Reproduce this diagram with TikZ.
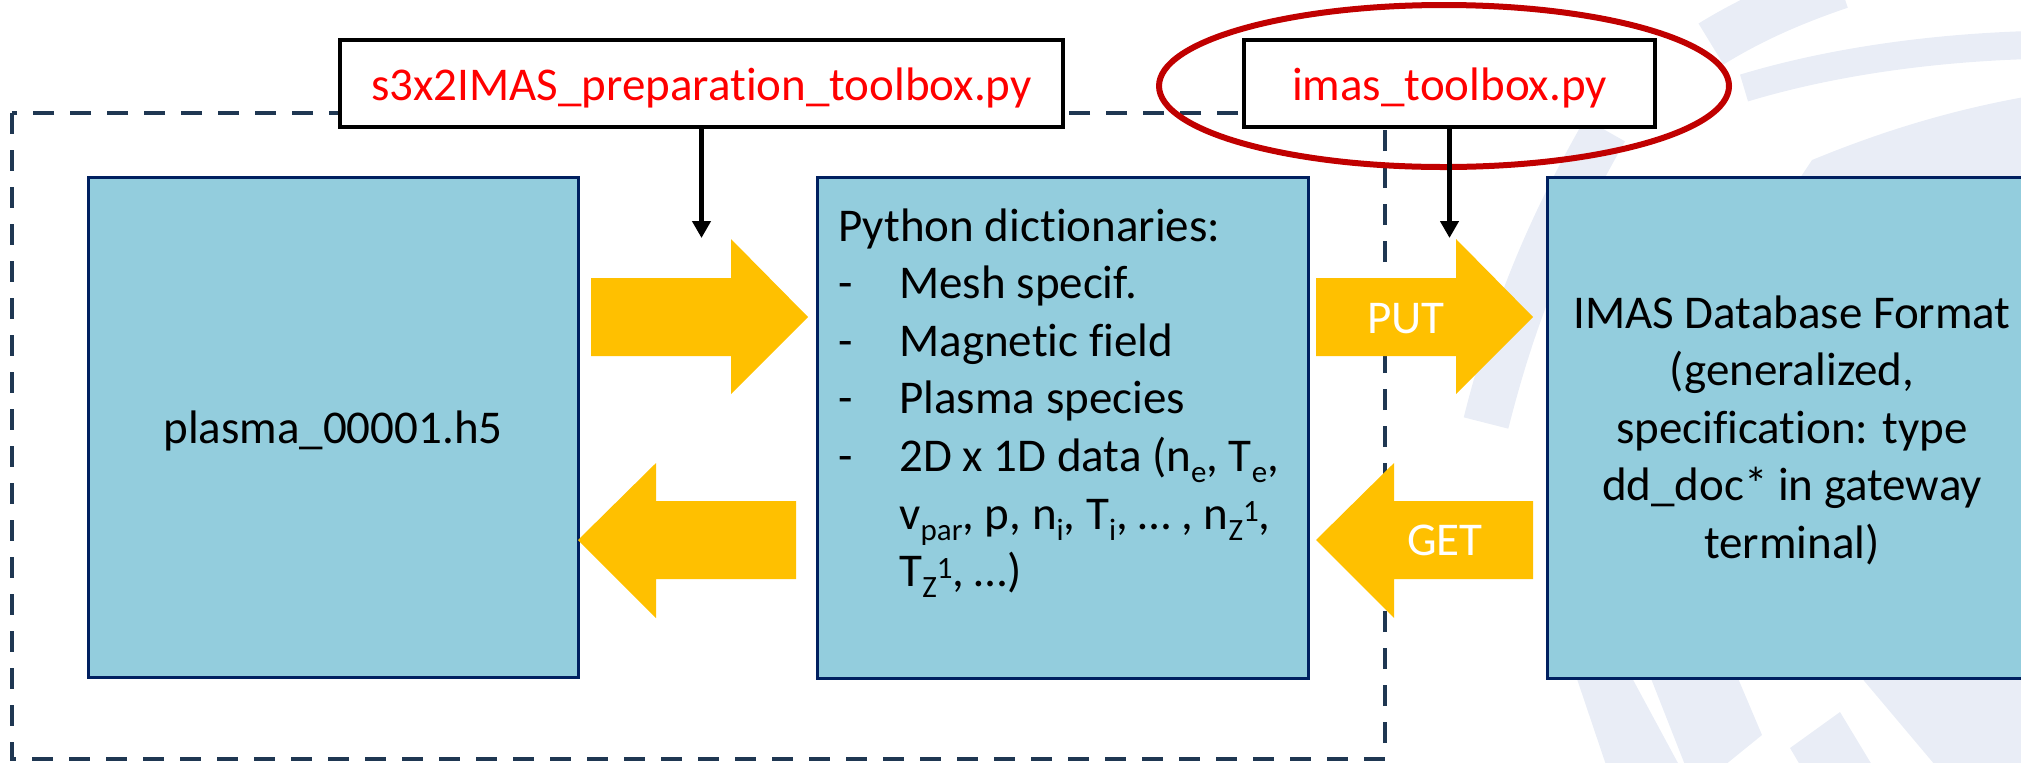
\documentclass[tikz,border=0pt]{standalone}
\usepackage{fontspec}
\setmainfont{Carlito}[Ligatures={NoCommon}]
\usetikzlibrary{arrows.meta}

\definecolor{boxblue}{HTML}{93CDDD}
\definecolor{boxedge}{HTML}{002060}
\definecolor{flow}{HTML}{FFC000}
\definecolor{frameline}{HTML}{1F3752}
\definecolor{ringred}{HTML}{C00000}
\definecolor{tagred}{HTML}{FF0000}
\definecolor{wmark}{HTML}{E9EDF6}

% sub- and superscripts in the body text
\newcommand\lowtxt[1]{\raisebox{-5.5pt}{\fontsize{15.5}{15.5}\selectfont #1}}
\newcommand\hightxt[1]{\raisebox{4pt}{\fontsize{15.5}{15.5}\selectfont #1}}

\begin{document}
\begin{tikzpicture}[x=0.5pt,y=-0.5pt,
  font=\fontsize{23.5}{28.8}\selectfont,
  bluebox/.style={draw=boxedge,line width=1.5pt,fill=boxblue,inner sep=0pt},
  tagbox/.style={draw=black,line width=1.75pt,fill=white,text=tagred,inner sep=0pt,
                 text height=21.5pt,text depth=5pt,minimum height=43.5pt},
  txt/.style={inner sep=0pt},
  flowarrow/.style={fill=flow},
  feed/.style={line width=2.25pt,-{Triangle[width=9pt,length=8.5pt]}},
  frame/.style={draw=frameline,line width=2.4pt,dash pattern=on 10.5pt off 8pt},
  ring/.style={draw=ringred,line width=3pt},
  wm/.style={draw=wmark},
]
\useasboundingbox (0,0) rectangle (2021,762);
\clip (0,0) rectangle (2021,762);

% faint logo bands in the background
\draw[wm,line width=23pt] (1486,423) .. controls (1512,320) and (1545,235) .. (1605,130);
\draw[wm,line width=24pt] (1711,44) .. controls (1750,20) and (1790,2) .. (1840,-15);
\draw[wm,line width=14pt] (1744,88) .. controls (1830,62) and (1930,48) .. (2030,45);
\fill[wmark] (1800,178) -- (1812,160) .. controls (1880,132) and (1950,110) .. (2030,96) -- (2030,178) -- cycle;
\fill[wmark] (1576,676) -- (1631,676) -- (1679,765) -- (1606,765) -- cycle;
\fill[wmark] (1650,676) -- (1737,676) -- (1762,735) -- (1725,765) -- (1685,765) -- cycle;
\fill[wmark] (1790,748) -- (1840,712) -- (1872,765) -- (1800,765) -- cycle;
\fill[wmark] (1860,676) -- (2030,676) -- (2030,765) -- (1935,765) -- cycle;

% dashed frame round the preparation step
\draw[frame] (12,113) rectangle (1385,759);

% script labels
\node[tagbox,minimum width=361.5pt] (prep) at (701.5,83.5) {s3x2IMAS\_preparation\_toolbox.py};
\node[tagbox,minimum width=205.5pt] (imastb) at (1449.5,83.5) {imas\_toolbox.py};
\draw[ring] (1444,86) ellipse [x radius=142.5pt, y radius=40.5pt];

% data boxes
\node[bluebox,minimum width=245pt,minimum height=250pt,text height=21pt,text depth=5pt]
  (h5) at (333,427) {plasma\_00001.h5};
\node[bluebox,minimum width=245.5pt,minimum height=250.5pt] (dicts) at (1062.5,427.5) {};
\node[bluebox,minimum width=256.5pt,minimum height=250.5pt] (imasdb) at (1803.5,427.5) {};

\node[txt,anchor=base west] (dictstext) at (838,241) {\parbox[t]{240pt}{\raggedright
  Python dictionaries:\\
  \makebox[30.5pt][l]{-}Mesh specif.\\
  \makebox[30.5pt][l]{-}Magnetic field\\
  \makebox[30.5pt][l]{-}Plasma species\\
  \makebox[30.5pt][l]{-}2D x 1D data (n\lowtxt{e}, T\lowtxt{e},\\
  \hspace*{30.5pt}v\lowtxt{par}, p, n\lowtxt{i}, T\lowtxt{i}, … , n\lowtxt{Z}\hightxt{1},\\
  \hspace*{30.5pt}T\lowtxt{Z}\hightxt{1}, …)}};

\node[txt,anchor=base] (dbtext) at (1792,328) {\parbox[t]{260pt}{\centering
  IMAS Database Format\\
  (generalized,\\
  specification: type\\
  dd\_doc* in gateway\\
  terminal)}};

% block arrows between the boxes
\fill[flowarrow] (591,278) -- (731,278) -- (731,239) -- (808,317) -- (731,394) -- (731,356) -- (591,356) -- cycle;
\fill[flowarrow] (578,540) -- (656,463) -- (656,501) -- (796,501) -- (796,579) -- (656,579) -- (656,618) -- cycle;
\fill[flowarrow] (1316,278) -- (1456,278) -- (1456,239) -- (1533,317) -- (1456,394) -- (1456,356) -- (1316,356) -- cycle;
\fill[flowarrow] (1316,540) -- (1394,463) -- (1394,501) -- (1533,501) -- (1533,579) -- (1394,579) -- (1394,618) -- cycle;
\node[txt,anchor=base,text=white] (put) at (1406,333) {PUT};
\node[txt,anchor=base,text=white] (get) at (1445,555) {GET};

% scripts feeding the conversions
\coordinate (prepin) at (701.5,238);
\coordinate (imasin) at (1449.5,238);
\draw[feed] (prep.south) -- (prepin);
\draw[feed] (imastb.south) -- (imasin);
\end{tikzpicture}
\end{document}
